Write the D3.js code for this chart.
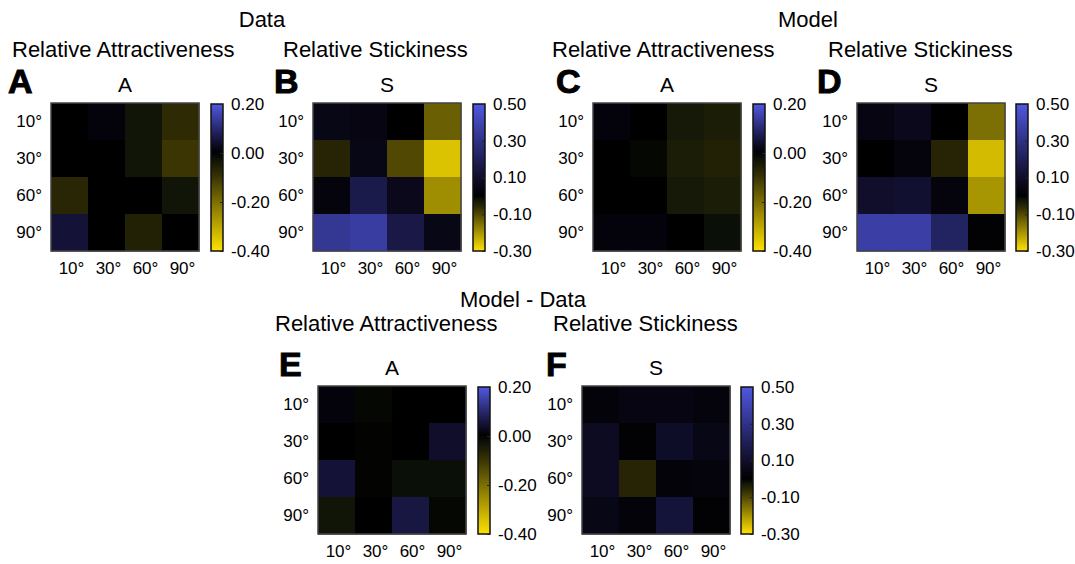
<!DOCTYPE html>
<html>
<head>
<meta charset="utf-8">
<script src="https://cdn.jsdelivr.net/npm/d3@7"></script>
<style>
  body { margin: 0; background: #fff; }
  text { font-family: "Liberation Sans", Arial, sans-serif; fill: #000; }
</style>
</head>
<body>
<script>
// ---- data (rows top->bottom, cols left->right) ----
const angles = ["10°", "30°", "60°", "90°"];
const ticksA = [0.2, 0.0, -0.2, -0.4];
const ticksS = [0.5, 0.3, 0.1, -0.1, -0.3];

const dataA = [
  [0.00, 0.01, -0.03, -0.08],
  [0.00, 0.00, -0.03, -0.10],
  [-0.07, 0.00, 0.00, -0.03],
  [0.05, 0.00, -0.06, 0.00]
];
const dataS = [
  [0.05, 0.04, 0.00, -0.13],
  [-0.05, 0.05, -0.10, -0.26],
  [0.03, 0.17, 0.06, -0.19],
  [0.33, 0.36, 0.16, 0.05]
];
const modelA = [
  [0.01, 0.00, -0.04, -0.05],
  [0.00, -0.01, -0.05, -0.06],
  [0.00, 0.00, -0.04, -0.05],
  [0.01, 0.01, 0.00, -0.02]
];
const modelS = [
  [0.04, 0.06, 0.00, -0.15],
  [0.00, 0.03, -0.05, -0.25],
  [0.10, 0.11, 0.03, -0.20],
  [0.37, 0.37, 0.22, 0.01]
];
const diffA = [
  [0.01, -0.01, 0.00, 0.00],
  [0.00, -0.005, 0.00, 0.04],
  [0.05, -0.005, -0.02, -0.02],
  [-0.03, 0.00, 0.06, -0.01]
];
const diffS = [
  [0.02, 0.04, 0.04, 0.03],
  [0.08, 0.01, 0.09, 0.05],
  [0.08, -0.05, 0.02, 0.03],
  [0.05, 0.02, 0.13, 0.01]
];

// ---- layout ----
const W = 1075, H = 564, S = 148, CBW = 12;
const panels = [
  { letter: "A", title: "A", data: dataA, ticks: ticksA, hx: 51,  hy: 103, cbx: 211, lx: 8 },
  { letter: "B", title: "S", data: dataS, ticks: ticksS, hx: 313, hy: 103, cbx: 473, lx: 274 },
  { letter: "C", title: "A", data: modelA, ticks: ticksA, hx: 593, hy: 103, cbx: 753, lx: 556 },
  { letter: "D", title: "S", data: modelS, ticks: ticksS, hx: 857, hy: 103, cbx: 1016, lx: 817 },
  { letter: "E", title: "A", data: diffA, ticks: ticksA, hx: 318, hy: 386, cbx: 478, lx: 279 },
  { letter: "F", title: "S", data: diffS, ticks: ticksS, hx: 582, hy: 386, cbx: 741, lx: 546 }
];
const headers = [
  { text: "Data", x: 262, y: 27, anchor: "middle" },
  { text: "Model", x: 808, y: 27, anchor: "middle" },
  { text: "Model - Data", x: 523, y: 307, anchor: "middle" },
  { text: "Relative Attractiveness", x: 12, y: 57, anchor: "start" },
  { text: "Relative Stickiness", x: 283, y: 57, anchor: "start" },
  { text: "Relative Attractiveness", x: 552, y: 57, anchor: "start" },
  { text: "Relative Stickiness", x: 828, y: 57, anchor: "start" },
  { text: "Relative Attractiveness", x: 275, y: 331, anchor: "start" },
  { text: "Relative Stickiness", x: 553, y: 331, anchor: "start" }
];

// blue above zero, black at zero, yellow below
const posCol = d3.scaleLinear().domain([0, 0.15, 0.4, 1])
  .range(["#000000", "#0c0a20", "#1f1f58", "#5058e0"]).clamp(true);
const negCol = d3.scaleLinear().domain([0, 0.06, 0.2, 1])
  .range(["#000000", "#0c1208", "#2e2a04", "#ffe100"]).clamp(true);
function colorFor(v, lo, hi) {
  return v >= 0 ? posCol(v / hi) : negCol(v / lo);
}
const fmt = d => d3.format(".2f")(d).replace("−", "-");

const svg = d3.select("body").append("svg")
  .attr("width", W).attr("height", H);
const defs = svg.append("defs");

svg.selectAll("text.header").data(headers).enter().append("text")
  .attr("class", "header")
  .attr("x", d => d.x).attr("y", d => d.y)
  .attr("text-anchor", d => d.anchor)
  .style("font-size", "22px")
  .text(d => d.text);

panels.forEach((p, i) => {
  const lo = d3.min(p.ticks), hi = d3.max(p.ticks);
  const g = svg.append("g");
  const x = d3.scaleBand().domain(angles).range([p.hx, p.hx + S]);
  const y = d3.scaleBand().domain(angles).range([p.hy, p.hy + S]);

  // panel letter + title
  g.append("text").attr("x", p.lx).attr("y", p.hy - 10)
    .style("font-size", "34px").style("font-weight", "bold")
    .style("stroke", "#000").style("stroke-width", 1)
    .text(p.letter);
  g.append("text").attr("x", p.hx + S / 2).attr("y", p.hy - 11)
    .attr("text-anchor", "middle").style("font-size", "21px")
    .text(p.title);

  // cells
  const cells = [];
  p.data.forEach((row, r) => row.forEach((v, c) => cells.push({ r: angles[r], c: angles[c], v })));
  g.selectAll("rect.cell").data(cells).enter().append("rect")
    .attr("x", d => x(d.c)).attr("y", d => y(d.r))
    .attr("width", x.bandwidth() + 0.5).attr("height", y.bandwidth() + 0.5)
    .attr("fill", d => colorFor(d.v, lo, hi));
  g.append("rect").attr("x", p.hx).attr("y", p.hy)
    .attr("width", S).attr("height", S)
    .attr("fill", "none").attr("stroke", "#444").attr("stroke-width", 1.5);

  // row / column labels
  g.selectAll("text.row").data(angles).enter().append("text")
    .attr("x", p.hx - 9).attr("y", d => y(d) + y.bandwidth() / 2)
    .attr("dy", "0.35em").attr("text-anchor", "end")
    .style("font-size", "17px").text(d => d);
  g.selectAll("text.col").data(angles).enter().append("text")
    .attr("x", d => x(d) + x.bandwidth() / 2 + 2).attr("y", p.hy + S + 23)
    .attr("text-anchor", "middle")
    .style("font-size", "17px").text(d => d);

  // colorbar
  const cy = d3.scaleLinear().domain([lo, hi]).range([p.hy + S, p.hy + 1]);
  const grad = defs.append("linearGradient").attr("id", "cb" + i)
    .attr("x1", 0).attr("y1", 1).attr("x2", 0).attr("y2", 0);
  d3.range(0, 41).forEach(k => {
    const v = lo + (hi - lo) * k / 40;
    grad.append("stop").attr("offset", k / 40).attr("stop-color", colorFor(v, lo, hi));
  });
  g.append("rect").attr("x", p.cbx).attr("y", p.hy + 1)
    .attr("width", CBW).attr("height", S - 1)
    .attr("fill", "url(#cb" + i + ")")
    .attr("stroke", "#111").attr("stroke-width", 1.5);
  const ax = g.append("g").attr("transform", "translate(" + (p.cbx + CBW) + ",0)")
    .call(d3.axisRight(cy).tickValues(p.ticks).tickSize(-3).tickPadding(8)
      .tickFormat(fmt));
  ax.select(".domain").remove();
  ax.selectAll("line").attr("stroke", "#222");
  ax.selectAll("text").style("font-size", "17px")
    .style("font-family", "'Liberation Sans', Arial, sans-serif");
});
</script>
</body>
</html>
